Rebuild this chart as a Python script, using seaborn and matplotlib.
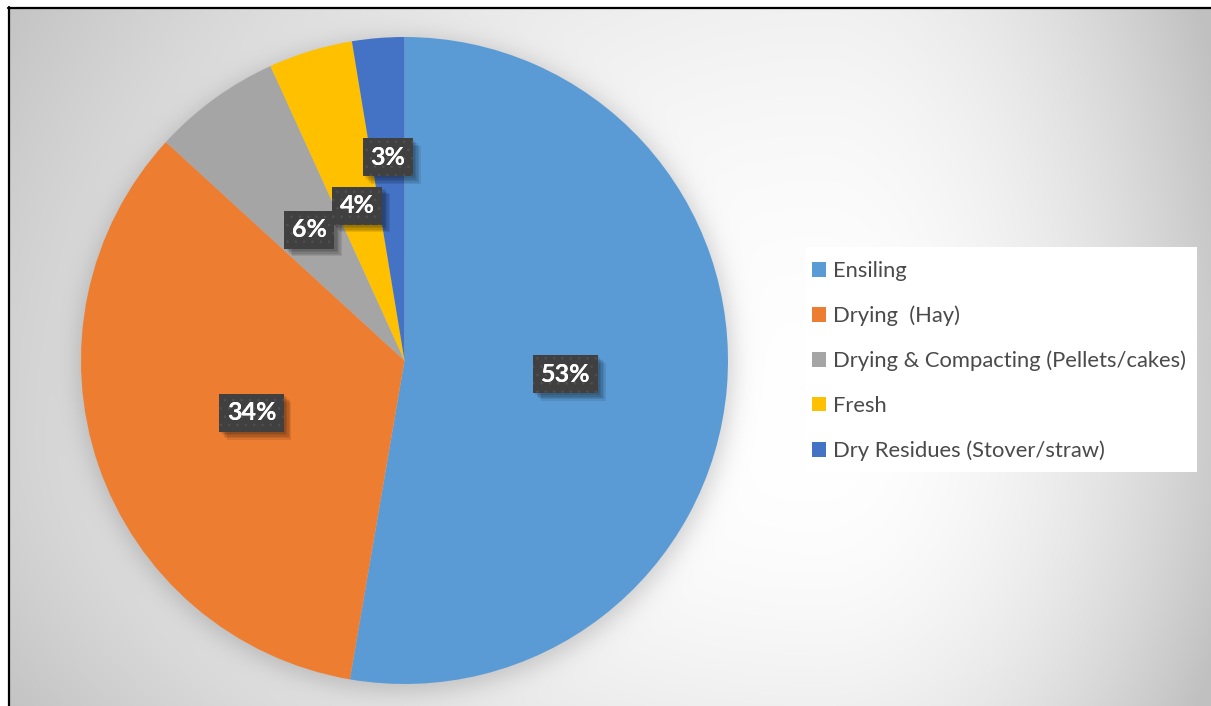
import numpy as np
import matplotlib
matplotlib.use("Agg")
import matplotlib.pyplot as plt
import matplotlib.patheffects as pe
from matplotlib.patches import Rectangle
from matplotlib.lines import Line2D
import seaborn as sns

# Forage conservation methods, share of respondents
categories = ["Ensiling", "Drying  (Hay)", "Drying & Compacting (Pellets/cakes)",
              "Fresh", "Dry Residues (Stover/straw)"]
shares = [52.7, 34.1, 6.4, 4.2, 2.6]
pct_labels = ["53%", "34%", "6%", "4%", "3%"]
colors = ["#5B9BD5", "#ED7D31", "#A5A5A5", "#FFC000", "#4472C4"]

sns.set_theme(style="white")
plt.rcParams["font.family"] = ["Lato", "DejaVu Sans"]
plt.rcParams["hatch.linewidth"] = 0.6

W, H = 1211, 706
fig = plt.figure(figsize=(W / 100, H / 100), dpi=100, facecolor="white")

# ---- background: chart-area gradient with a soft glow around the pie ----
bg = fig.add_axes([0, 0, 1, 1], zorder=0)
bg.set_xlim(0, W)
bg.set_ylim(H, 0)
bg.axis("off")

yy, xx = np.mgrid[0:H, 0:W].astype(float)
cx, cy = 820.0, 430.0
dx, dy = xx - cx, yy - cy
ax_l, ax_r, ax_u, ax_d = 962.0, 432.0, 888.0, 565.0
a = np.where(dx < 0, ax_l, ax_r)
b = np.where(dy < 0, ax_u, ax_d)
t2 = np.clip((dx / a) ** 2 + (dy / b) ** 2, 0, 1)
val = 255.0 - 63.0 * t2

pcx, pcy, pr = 405.5, 364.5, 323.5
dist = np.hypot(xx - pcx, yy - pcy)
glow = 1.0 / (1.0 + np.exp((dist - pr - 4.0) / 7.0))
val = val * (1.0 - 0.17 * glow)

img = np.repeat((val / 255.0)[:, :, None], 3, axis=2)
img[:8, :, :] = 1.0
img[:, :9, :] = 1.0
bg.imshow(img, extent=[0, W, H, 0], origin="upper", interpolation="bilinear", zorder=0)

# chart-area border (left and top)
bg.add_line(Line2D([9, 9], [7, H], color="black", lw=1.6, zorder=2))
bg.add_line(Line2D([8, W], [8, 8], color="black", lw=1.6, zorder=2))

# white legend panel
bg.add_patch(Rectangle((806, 247), 391, 225, facecolor="white", edgecolor="none", zorder=1))

# ---- pie ----
ax = fig.add_axes([81 / W, 22 / H, 647 / W, 647 / H], zorder=2)
ax.patch.set_alpha(0)
wedges, _ = ax.pie(shares, colors=colors, startangle=90, counterclock=False,
                   radius=1.0, wedgeprops=dict(linewidth=0))
ax.set_xlim(-1, 1)
ax.set_ylim(-1, 1)
ax.set_aspect("equal", adjustable="box")
ax.axis("off")

# soft drop shadow: several faint offset copies of the label box
soft_shadow = [pe.SimplePatchShadow(offset=(o, -o), shadow_rgbFace="black", alpha=0.09)
               for o in (1.5, 2.5, 3.5, 4.5, 5.5)] + [pe.Normal()]

label_r = [0.5, 0.5, 0.5, 0.5, 0.63]
box_style = "square,pad=0.3"
for w, lab, r in zip(wedges, pct_labels, label_r):
    mid = np.deg2rad((w.theta1 + w.theta2) / 2.0)
    x, y = r * np.cos(mid), r * np.sin(mid)
    tx = ax.text(x, y, lab, ha="center", va="center", color="white",
                 fontsize=18, fontweight="bold", zorder=5,
                 bbox=dict(boxstyle=box_style, facecolor="#404040",
                           edgecolor="none", linewidth=0))
    tx.get_bbox_patch().set_path_effects(soft_shadow)
    # fine dotted texture on the label box
    ax.text(x, y, lab, ha="center", va="center", color="white",
            fontsize=18, fontweight="bold", zorder=6,
            bbox=dict(boxstyle=box_style, facecolor="none",
                      edgecolor="#505050", linewidth=0, hatch=".."))

# ---- legend ----
leg = fig.legend(wedges, categories, loc="upper left",
                 bbox_to_anchor=(812 / W, 1 - 261 / H), frameon=False,
                 fontsize=15.8, labelcolor="#4a4a4a", handlelength=0.64,
                 handleheight=0.64, handletextpad=0.3, labelspacing=1.12,
                 borderpad=0, borderaxespad=0)
leg.set_zorder(6)

fig.savefig("out.png", dpi=100, facecolor="white")
